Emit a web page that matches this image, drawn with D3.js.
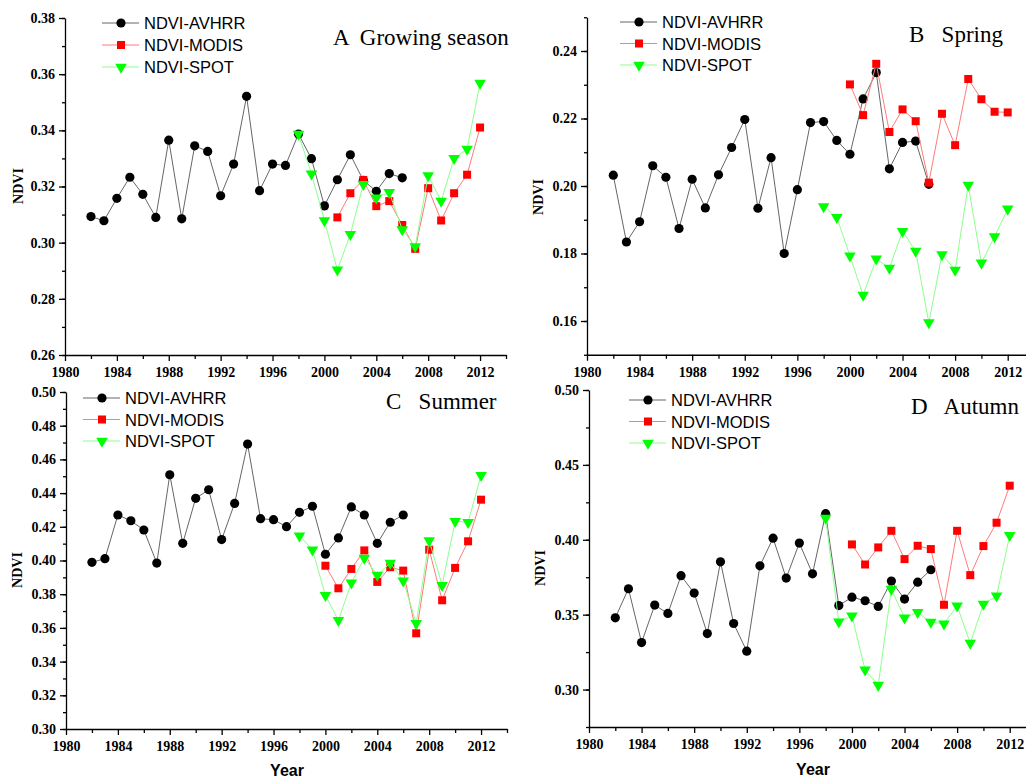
<!DOCTYPE html>
<html>
<head>
<meta charset="utf-8">
<script src="https://cdn.jsdelivr.net/npm/d3@7/dist/d3.min.js"></script>
<style>
  body { margin: 0; background: #fff; }
  svg { display: block; }
</style>
</head>
<body>
<div id="chart"></div>
<script>
// years for each sensor
var avhrrYears = [1982, 1983, 1984, 1985, 1986, 1987, 1988, 1989, 1990, 1991, 1992, 1993, 1994,
                  1995, 1996, 1997, 1998, 1999, 2000, 2001, 2002, 2003, 2004, 2005, 2006];
var modisYears = [2000, 2001, 2002, 2003, 2004, 2005, 2006, 2007, 2008, 2009, 2010, 2011, 2012];
var modisYearsGrow = [2001, 2002, 2003, 2004, 2005, 2006, 2007, 2008, 2009, 2010, 2011, 2012];
var spotYears = [1998, 1999, 2000, 2001, 2002, 2003, 2004, 2005, 2006, 2007, 2008, 2009, 2010, 2011, 2012];

// A growing season
var growAvhrr = [0.3093, 0.3078, 0.3158, 0.3233, 0.3172, 0.3090, 0.3365, 0.3085, 0.3345, 0.3325, 0.3167, 0.3280, 0.3521,
                 0.3185, 0.3280, 0.3275, 0.3387, 0.3299, 0.3131, 0.3224, 0.3313, 0.3222, 0.3183, 0.3246, 0.3231];
var growModis = [0.3090, 0.3176, 0.3223, 0.3130, 0.3148, 0.3063, 0.2978, 0.3194, 0.3079, 0.3176, 0.3242, 0.3410];
var growSpot  = [0.3387, 0.3245, 0.3079, 0.2903, 0.3030, 0.3208, 0.3160, 0.3179, 0.3047, 0.2986, 0.3239, 0.3148, 0.3300, 0.3333, 0.3568];

// B spring
var springAvhrr = [0.2032, 0.1834, 0.1894, 0.2060, 0.2026, 0.1874, 0.2020, 0.1935, 0.2033, 0.2114, 0.2197, 0.1934, 0.2084,
                   0.1800, 0.1989, 0.2188, 0.2191, 0.2135, 0.2094, 0.2258, 0.2336, 0.2051, 0.2129, 0.2133, 0.2005];
var springModis = [0.2301, 0.2210, 0.2362, 0.2160, 0.2227, 0.2192, 0.2010, 0.2214, 0.2121, 0.2317, 0.2257, 0.2220, 0.2218];
var springSpot  = [0.1939, 0.1907, 0.1793, 0.1677, 0.1784, 0.1757, 0.1866, 0.1807, 0.1595, 0.1797, 0.1751, 0.2003, 0.1772, 0.1850, 0.1932];

// C summer
var summerAvhrr = [0.3989, 0.4011, 0.4270, 0.4236, 0.4181, 0.3985, 0.4509, 0.4102, 0.4369, 0.4420, 0.4124, 0.4339, 0.4691,
                   0.4248, 0.4242, 0.4201, 0.4286, 0.4322, 0.4037, 0.4134, 0.4318, 0.4270, 0.4102, 0.4227, 0.4270];
var summerModis = [0.3969, 0.3835, 0.3950, 0.4060, 0.3873, 0.3960, 0.3940, 0.3568, 0.4064, 0.3764, 0.3956, 0.4114, 0.4361];
var summerSpot  = [0.4147, 0.4064, 0.3793, 0.3645, 0.3867, 0.4015, 0.3914, 0.3985, 0.3880, 0.3627, 0.4118, 0.3853, 0.4233, 0.4227, 0.4506];

// D autumn
var autumnAvhrr = [0.3479, 0.3673, 0.3314, 0.3564, 0.3508, 0.3760, 0.3644, 0.3374, 0.3853, 0.3441, 0.3256, 0.3826, 0.4011,
                   0.3744, 0.3978, 0.3773, 0.4174, 0.3561, 0.3617, 0.3593, 0.3555, 0.3724, 0.3604, 0.3717, 0.3800];
var autumnModis = [0.3969, 0.3835, 0.3949, 0.4060, 0.3871, 0.3960, 0.3938, 0.3566, 0.4060, 0.3764, 0.3958, 0.4114, 0.4361];
var autumnSpot  = [0.4145, 0.3452, 0.3492, 0.3132, 0.3029, 0.3670, 0.3479, 0.3515, 0.3450, 0.3439, 0.3559, 0.3310, 0.3570, 0.3626, 0.4029];

// tick labels
var yearTicks = [1980, 1984, 1988, 1992, 1996, 2000, 2004, 2008, 2012];
var growTicks = [0.26, 0.28, 0.30, 0.32, 0.34, 0.36, 0.38];
var springTicks = [0.16, 0.18, 0.20, 0.22, 0.24];
var summerTicks = [0.30, 0.32, 0.34, 0.36, 0.38, 0.40, 0.42, 0.44, 0.46, 0.48, 0.50];
var autumnTicks = [0.30, 0.35, 0.40, 0.45, 0.50];
var seriesNames = ['NDVI-AVHRR', 'NDVI-MODIS', 'NDVI-SPOT'];

var serif = '"Liberation Serif", "Times New Roman", serif';
var sans = '"Liberation Sans", Arial, sans-serif';

var svg = d3.select('#chart').append('svg')
    .attr('width', 1026)
    .attr('height', 778);

var seriesStyle = [
  {line: '#666', fill: '#000', shape: 'circle'},
  {line: '#ff7a7a', fill: '#ff0000', shape: 'square'},
  {line: '#8cff8c', fill: '#00ff00', shape: 'triangle'}
];

var panels = [
  {title: 'A  Growing season', tx: 333, ty: 45,
   x: [65, 506], y: [355, 18], yDomain: [0.26, 0.38], yTicks: growTicks, minorStep: 0.01,
   series: [[avhrrYears, growAvhrr], [modisYearsGrow, growModis], [spotYears, growSpot]],
   legend: {x: 102, y: 23, dy: 22}, ylab: [23, 186], xlab: null},
  {title: 'B   Spring', tx: 909, ty: 42,
   x: [587, 1034], y: [354.75, 17.25], yDomain: [0.15, 0.25], yTicks: springTicks, minorStep: 0.01,
   series: [[avhrrYears, springAvhrr], [modisYears, springModis], [spotYears, springSpot]],
   legend: {x: 620, y: 22, dy: 21.5}, ylab: [543, 197], xlab: null},
  {title: 'C   Summer', tx: 386, ty: 409,
   x: [66, 507], y: [729, 392], yDomain: [0.30, 0.50], yTicks: summerTicks, minorStep: 0.01,
   series: [[avhrrYears, summerAvhrr], [modisYears, summerModis], [spotYears, summerSpot]],
   legend: {x: 83, y: 398, dy: 21.5}, ylab: [22, 570], xlab: [287, 776]},
  {title: 'D   Autumn', tx: 911, ty: 414,
   x: [589, 1036], y: [727, 390], yDomain: [0.275, 0.50], yTicks: autumnTicks, minorStep: 0.025,
   series: [[avhrrYears, autumnAvhrr], [modisYears, autumnModis], [spotYears, autumnSpot]],
   legend: {x: 629, y: 400, dy: 21.5}, ylab: [545, 568], xlab: [813, 775]}
];

function drawMarker(g, shape, cx, cy, color) {
  if (shape === 'circle') {
    g.append('circle').attr('cx', cx).attr('cy', cy).attr('r', 4.6).attr('fill', color);
  } else if (shape === 'square') {
    g.append('rect').attr('x', cx - 4).attr('y', cy - 4).attr('width', 8).attr('height', 8).attr('fill', color);
  } else {
    g.append('path')
      .attr('d', d3.symbol().type(d3.symbolTriangle).size(58)())
      .attr('transform', 'translate(' + cx + ',' + cy + ') rotate(180)')
      .attr('fill', color);
  }
}

panels.forEach(function(p) {
  var g = svg.append('g');
  var x = d3.scaleLinear().domain([1980, 2014]).range(p.x);
  var y = d3.scaleLinear().domain(p.yDomain).range(p.y);

  // minor ticks
  var minorY = d3.range(p.yDomain[0], p.yDomain[1] + 1e-9, p.minorStep);
  g.append('g')
    .attr('transform', 'translate(' + p.x[0] + ',0)')
    .call(d3.axisLeft(y).tickValues(minorY).tickSize(3).tickSizeOuter(0).tickFormat(''))
    .call(function(a) { a.select('.domain').remove(); });
  g.append('g')
    .attr('transform', 'translate(0,' + p.y[0] + ')')
    .call(d3.axisBottom(x).tickValues(d3.range(1982, 2015, 4)).tickSize(4).tickSizeOuter(0).tickFormat(''))
    .call(function(a) { a.select('.domain').remove(); });

  // major axes
  g.append('g')
    .attr('transform', 'translate(' + p.x[0] + ',0)')
    .call(d3.axisLeft(y).tickValues(p.yTicks).tickSize(6).tickPadding(4).tickSizeOuter(0).tickFormat(d3.format('.2f')));
  g.append('g')
    .attr('transform', 'translate(0,' + p.y[0] + ')')
    .call(d3.axisBottom(x).tickValues(yearTicks).tickSize(6).tickPadding(6).tickSizeOuter(0).tickFormat(d3.format('d')));

  g.selectAll('.domain, .tick line').attr('stroke', '#000').attr('stroke-width', 1.3);
  g.selectAll('.tick text')
    .attr('fill', '#000')
    .style('font-family', serif)
    .style('font-weight', 'bold')
    .style('font-size', '14px');

  // lines then markers, AVHRR below MODIS below SPOT
  p.series.forEach(function(s, i) {
    var st = seriesStyle[i];
    var pts = s[0].map(function(yr, k) { return [yr, s[1][k]]; });
    g.append('path')
      .datum(pts)
      .attr('fill', 'none')
      .attr('stroke', st.line)
      .attr('stroke-width', 1)
      .attr('d', d3.line().x(function(d) { return x(d[0]); }).y(function(d) { return y(d[1]); }));
    var mg = g.append('g');
    pts.forEach(function(d) { drawMarker(mg, st.shape, x(d[0]), y(d[1]), st.fill); });
  });

  // legend
  seriesNames.forEach(function(name, i) {
    var st = seriesStyle[i];
    var ly = p.legend.y + i * p.legend.dy;
    g.append('line')
      .attr('x1', p.legend.x).attr('x2', p.legend.x + 37)
      .attr('y1', ly).attr('y2', ly)
      .attr('stroke', st.line).attr('stroke-width', 1);
    drawMarker(g, st.shape, p.legend.x + 19, ly, st.fill);
    g.append('text')
      .attr('x', p.legend.x + 42).attr('y', ly + 6)
      .style('font-family', sans)
      .style('font-size', '16.5px')
      .text(name);
  });

  // panel title
  g.append('text')
    .attr('x', p.tx).attr('y', p.ty)
    .style('font-family', serif)
    .style('font-size', '23px')
    .style('white-space', 'pre')
    .attr('xml:space', 'preserve')
    .text(p.title);

  // axis titles
  g.append('text')
    .attr('transform', 'translate(' + p.ylab[0] + ',' + p.ylab[1] + ') rotate(-90)')
    .attr('text-anchor', 'middle')
    .style('font-family', serif)
    .style('font-weight', 'bold')
    .style('font-size', '14px')
    .text('NDVI');
  if (p.xlab) {
    g.append('text')
      .attr('x', p.xlab[0]).attr('y', p.xlab[1])
      .attr('text-anchor', 'middle')
      .style('font-family', sans)
      .style('font-weight', 'bold')
      .style('font-size', '16px')
      .text('Year');
  }
});
</script>
</body>
</html>
